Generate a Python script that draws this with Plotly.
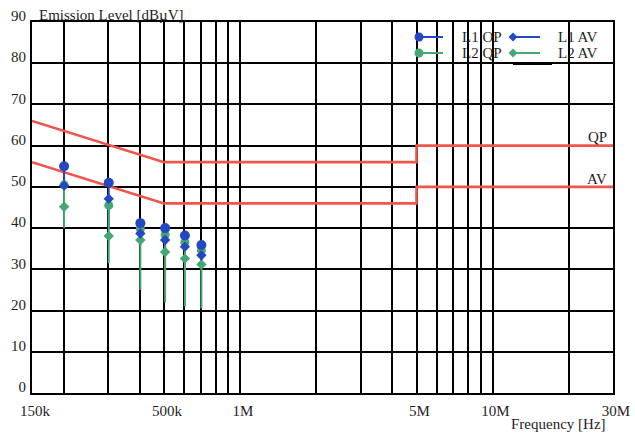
import math
import plotly.graph_objects as go

# ---------------- data ----------------
freq_mhz = [0.201, 0.302, 0.403, 0.505, 0.605, 0.703]
l1_qp = [55.0, 51.0, 41.2, 40.0, 38.2, 35.9]
l2_qp = [50.5, 45.5, 39.8, 38.4, 36.6, 34.6]
l1_av = [50.3, 47.1, 38.7, 37.1, 35.5, 33.4]
l2_av = [45.2, 38.1, 37.1, 34.2, 32.6, 31.2]
l1_stem_bottom = [50.5, 40.0, 36.0, 34.5, 33.0, 31.0]
l2_stem_bottom = [40.0, 31.5, 25.0, 22.0, 21.0, 20.5]

qp_limit_f = [0.15, 0.5, 5.0, 5.0, 30.0]
qp_limit_v = [66.0, 56.0, 56.0, 60.0, 60.0]
av_limit_f = [0.15, 0.5, 5.0, 5.0, 30.0]
av_limit_v = [56.0, 46.0, 46.0, 50.0, 50.0]

x_tickvals = [0.15, 0.5, 1, 5, 10, 30]
x_ticktext = ["150k", "500k", "1M", "5M", "10M", "30M"]
x_minor = [0.2, 0.3, 0.4, 0.6, 0.7, 0.8, 0.9, 2, 3, 4, 6, 7, 8, 9, 20]
y_ticks = list(range(0, 100, 10))

BLUE = "#2448c4"
GREEN = "#45a872"
RED = "#f0554c"
FONT = "Liberation Serif"
TXT = "#1e1e1e"

fig = go.Figure()

def stems(xs, tops, bottoms):
    X, Y = [], []
    for x, t, b in zip(xs, tops, bottoms):
        X += [x, x, None]
        Y += [t, b, None]
    return X, Y

# limit lines
fig.add_trace(go.Scatter(x=qp_limit_f, y=qp_limit_v, mode="lines",
                         line=dict(color=RED, width=2.6), hoverinfo="skip"))
fig.add_trace(go.Scatter(x=av_limit_f, y=av_limit_v, mode="lines",
                         line=dict(color=RED, width=2.6), hoverinfo="skip"))

# stems
sx, sy = stems(freq_mhz, l1_qp, l1_stem_bottom)
fig.add_trace(go.Scatter(x=sx, y=sy, mode="lines", line=dict(color=BLUE, width=2)))
sx, sy = stems(freq_mhz, l2_qp, l2_stem_bottom)
fig.add_trace(go.Scatter(x=sx, y=sy, mode="lines", line=dict(color=GREEN, width=2)))

# markers
fig.add_trace(go.Scatter(x=freq_mhz, y=l2_av, mode="markers", name="L2 AV",
                         marker=dict(symbol="diamond", size=8, color=GREEN)))
fig.add_trace(go.Scatter(x=freq_mhz, y=l2_qp, mode="markers", name="L2 QP",
                         marker=dict(symbol="circle", size=9, color=GREEN)))
fig.add_trace(go.Scatter(x=freq_mhz, y=l1_av, mode="markers", name="L1 AV",
                         marker=dict(symbol="diamond", size=8, color=BLUE)))
fig.add_trace(go.Scatter(x=freq_mhz, y=l1_qp, mode="markers", name="L1 OP",
                         marker=dict(symbol="circle", size=10, color=BLUE)))

W, H = 635, 435
L, R, T, B = 32, 22, 22, 42
pw, ph = W - L - R, H - T - B

def px(x):
    return (x - L) / pw

def py(y):
    return (H - B - y) / ph

shapes = []
# legend white box
shapes.append(dict(type="rect", xref="paper", yref="paper", layer="between",
                   x0=px(458), x1=1, y0=py(67), y1=1,
                   fillcolor="white", line=dict(width=0)))
# legend glyphs
legend_rows = [(37, BLUE, "L1 OP", "L1 AV"), (53, GREEN, "L2 QP", "L2 AV")]
annotations = []
for yy, col, t1, t2 in legend_rows:
    shapes.append(dict(type="line", xref="paper", yref="paper", layer="above",
                       x0=px(419), x1=px(443), y0=py(yy), y1=py(yy),
                       line=dict(color=col, width=2)))
    shapes.append(dict(type="circle", xref="paper", yref="paper", layer="above",
                       x0=px(414.5), x1=px(423.5), y0=py(yy + 4.5), y1=py(yy - 4.5),
                       fillcolor=col, line=dict(color=col, width=0)))
    shapes.append(dict(type="line", xref="paper", yref="paper", layer="above",
                       x0=px(513), x1=px(540), y0=py(yy), y1=py(yy),
                       line=dict(color=col, width=2)))
    d = 4.5
    shapes.append(dict(type="path", xref="paper", yref="paper", layer="above",
                       path=f"M {px(513-d)},{py(yy)} L {px(513)},{py(yy-d)} L {px(513+d)},{py(yy)} L {px(513)},{py(yy+d)} Z",
                       fillcolor=col, line=dict(color=col, width=0)))
    annotations.append(dict(xref="paper", yref="paper", x=px(460), y=py(yy),
                            xanchor="left", yanchor="middle", showarrow=False,
                            text=t1, font=dict(family=FONT, size=15, color=TXT)))
    annotations.append(dict(xref="paper", yref="paper", x=px(556), y=py(yy),
                            xanchor="left", yanchor="middle", showarrow=False,
                            text=t2, font=dict(family=FONT, size=15, color=TXT)))
shapes.append(dict(type="line", xref="paper", yref="paper", layer="above",
                   x0=px(513), x1=px(552), y0=py(64), y1=py(64),
                   line=dict(color="black", width=2)))

annotations += [
    dict(xref="paper", yref="paper", x=px(37), y=py(15), xanchor="left", yanchor="middle",
         showarrow=False, text="Emission Level [dBµV]",
         font=dict(family=FONT, size=15, color=TXT)),
    dict(xref="paper", yref="paper", x=px(608), y=py(424), xanchor="right", yanchor="middle",
         showarrow=False, text="Frequency [Hz]",
         font=dict(family=FONT, size=15, color=TXT)),
    dict(xref="paper", yref="y", x=px(609), y=62.2, xanchor="right", yanchor="middle",
         showarrow=False, text="QP", font=dict(family=FONT, size=15, color=TXT)),
    dict(xref="paper", yref="y", x=px(609), y=52.0, xanchor="right", yanchor="middle",
         showarrow=False, text="AV", font=dict(family=FONT, size=15, color=TXT)),
]

fig.update_layout(
    width=W, height=H,
    margin=dict(l=L, r=R, t=T, b=B, pad=0, autoexpand=False),
    paper_bgcolor="white", plot_bgcolor="white",
    showlegend=False,
    shapes=shapes, annotations=annotations,
    font=dict(family=FONT, size=15, color=TXT),
)
fig.update_xaxes(
    type="log", automargin=False,
    range=[math.log10(0.15), math.log10(30)],
    tickmode="array", tickvals=x_tickvals, ticktext=x_ticktext,
    ticks="", ticklabelshift=3, ticklabelstandoff=3,
    showgrid=True, gridcolor="black", gridwidth=2,
    minor=dict(tickmode="array", tickvals=x_minor, showgrid=True,
               gridcolor="black", gridwidth=2, ticks=""),
    showline=True, linecolor="black", linewidth=2, mirror=True,
    zeroline=False,
    tickfont=dict(family=FONT, size=15, color=TXT),
)
fig.update_yaxes(
    automargin=False,
    range=[0, 90],
    tickmode="array", tickvals=y_ticks,
    ticks="", ticklabelshift=-6, ticklabelstandoff=1,
    showgrid=True, gridcolor="black", gridwidth=2,
    showline=True, linecolor="black", linewidth=2, mirror=True,
    zeroline=False,
    tickfont=dict(family=FONT, size=15, color=TXT),
)

fig.write_html("out.html")
